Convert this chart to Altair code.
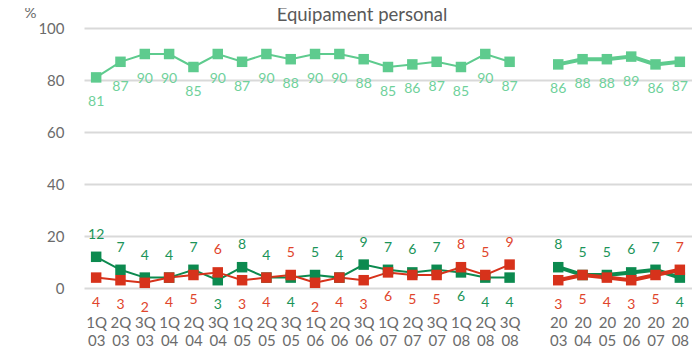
import altair as alt
import pandas as pd

title_text = ["Equipament personal"]

cats_q = ["1Q03", "2Q03", "3Q03", "1Q04", "2Q04", "3Q04", "1Q05", "2Q05", "3Q05",
          "1Q06", "2Q06", "3Q06", "1Q07", "2Q07", "3Q07", "1Q08", "2Q08", "3Q08"]
cats_a = ["2003", "2004", "2005", "2006", "2007", "2008"]

light_q = [81, 87, 90, 90, 85, 90, 87, 90, 88, 90, 90, 88, 85, 86, 87, 85, 90, 87]
light_a = [86, 88, 88, 89, 86, 87]
dark_q = [12, 7, 4, 4, 7, 3, 8, 4, 4, 5, 4, 9, 7, 6, 7, 6, 4, 4]
dark_a = [8, 5, 5, 6, 7, 4]
red_q = [4, 3, 2, 4, 5, 6, 3, 4, 5, 2, 4, 3, 6, 5, 5, 8, 5, 9]
red_a = [3, 5, 4, 3, 5, 7]

series_names = ["s1", "s2", "s3"]
line_colors = ["#5ecb8e", "#0c8a4f", "#d7321b"]
text_colors = ["#6fd19b", "#1b9459", "#e0452c"]

domain = cats_q + ["gap"] + cats_a

rows = []
for period, cats, L, D, R in [("Q", cats_q, light_q, dark_q, red_q),
                              ("A", cats_a, light_a, dark_a, red_a)]:
    for c, l, d, r in zip(cats, L, D, R):
        rows.append(dict(cat=c, series="s1", value=l, period=period, pos="below"))
        rows.append(dict(cat=c, series="s2", value=d, period=period,
                         pos="above" if d >= r else "below"))
        rows.append(dict(cat=c, series="s3", value=r, period=period,
                         pos="above" if r > d else "below"))
df = pd.DataFrame(rows)

FONT = "Lato"

x = alt.X("cat:N", scale=alt.Scale(domain=domain, type="point", padding=0.5),
          axis=alt.Axis(title=None, labelAngle=0, domain=False, ticks=False, grid=False,
                        labelFontSize=15, labelColor="#6b6b6b", labelFont=FONT,
                        labelPadding=34, labelLineHeight=18, labelBaseline="middle",
                        labelExpr="datum.label == 'gap' ? '' : [substring(datum.label,0,2), substring(datum.label,2,4)]"))
y = alt.Y("value:Q", scale=alt.Scale(domain=[0, 100], nice=False),
          axis=alt.Axis(values=[0, 20, 40, 60, 80, 100], title="%", titleAngle=0,
                        titleX=-54, titleY=-16, titleAlign="center", titleBaseline="middle",
                        titleFontSize=15, titleFontWeight="normal", titleColor="#6b6b6b",
                        titleFont=FONT, domain=False, ticks=False, labelPadding=20,
                        labelFontSize=15, labelColor="#6b6b6b", labelFont=FONT,
                        gridColor="#d9d9d9", gridWidth=2))
color = alt.Color("series:N", scale=alt.Scale(domain=series_names, range=line_colors), legend=None)
tcolor = alt.Color("series:N", scale=alt.Scale(domain=series_names, range=text_colors), legend=None)

base = alt.Chart(df)
lines = base.mark_line().encode(
    x=x, y=y, color=color, detail="period:N",
    strokeWidth=alt.StrokeWidth("period:N", scale=alt.Scale(domain=["Q", "A"], range=[2, 4]), legend=None))
points = base.mark_square(size=110, opacity=1, filled=True).encode(x=x, y=y, color=color)
above = base.transform_filter("datum.pos == 'above'").mark_text(
    dy=-22, fontSize=14, font=FONT, baseline="middle").encode(x=x, y=y, text="value:Q", color=tcolor)
below = base.transform_filter("datum.pos == 'below'").mark_text(
    dy=25, fontSize=14, font=FONT, baseline="middle").encode(x=x, y=y, text="value:Q", color=tcolor)

title = alt.Chart(pd.DataFrame({"t": title_text})).mark_text(
    fontSize=18.5, font=FONT, color="#595959", align="center", baseline="middle").encode(
    text="t:N", x=alt.value(278), y=alt.value(-13))

chart = alt.layer(lines, points, above, below, title).resolve_scale(color="independent").properties(
    width=608, height=260,
    autosize=alt.AutoSizeParams(type="none"),
    padding={"left": 76, "top": 20, "right": 0, "bottom": 62},
).configure_view(stroke=None)

chart.save("out.html", embed_options={"renderer": "svg", "actions": False})
